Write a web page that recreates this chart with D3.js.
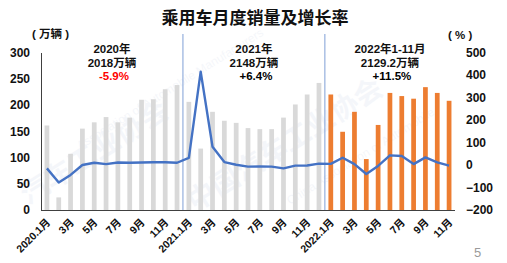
<!DOCTYPE html>
<html><head><meta charset="utf-8">
<script src="https://cdn.jsdelivr.net/npm/d3@7"></script>
<style>
html,body{margin:0;padding:0;background:#fff;}
svg{display:block;}
text{font-family:"Liberation Sans","Noto Sans CJK SC",Arial,sans-serif;}
</style></head>
<body>
<svg id="c" width="507" height="263"></svg>
<script>
const months = [
 "2020.1","2020.2","2020.3","2020.4","2020.5","2020.6","2020.7","2020.8","2020.9","2020.10","2020.11","2020.12",
 "2021.1","2021.2","2021.3","2021.4","2021.5","2021.6","2021.7","2021.8","2021.9","2021.10","2021.11","2021.12",
 "2022.1","2022.2","2022.3","2022.4","2022.5","2022.6","2022.7","2022.8","2022.9","2022.10","2022.11"];
const sales2020 = [161, 24, 107, 155, 167, 177, 167, 176, 210, 211, 230, 238];
const sales2021 = [206, 117, 187, 170, 166, 156, 154, 154, 176, 201, 220, 242];
const sales2022 = [220, 149, 187, 97, 162, 223, 217, 212, 234, 223, 208];
const growth = [-15, -78, -44, 0, 10, 4, 11, 10, 11, 12, 12, 10,
                32, 415, 81, 13, 1, -7, -6, -7, -15, -3, -2, 6,
                5, 32, 4, -40, -4, 43, 40, 4, 34, 12, -3];
const xTickMonths = ["2020.1","2020.3","2020.5","2020.7","2020.9","2020.11","2021.1","2021.3","2021.5","2021.7","2021.9","2021.11","2022.1","2022.3","2022.5","2022.7","2022.9","2022.11"];
const xTickLabels = ["2020.1月","3月","5月","7月","9月","11月","2021.1月","3月","5月","7月","9月","11月","2022.1月","3月","5月","7月","9月","11月"];
const leftTicks = [0,50,100,150,200,250,300];
const rightTicks = [-200,-100,0,100,200,300,400,500];
const periods = [
  {lines:["2020年","2018万辆","-5.9%"], from:"2020.1", to:"2020.12", pctColor:"#ff0000"},
  {lines:["2021年","2148万辆","+6.4%"], from:"2021.1", to:"2021.12", pctColor:"#000"},
  {lines:["2022年1-11月","2129.2万辆","+11.5%"], from:"2022.1", to:"2022.11", pctColor:"#000"}
];

const sales = sales2020.concat(sales2021, sales2022);
const data = months.map((m,i)=>({m, v:sales[i], g:growth[i], y:+m.split(".")[0]}));

const svg = d3.select("#c");
const L = 41, R = 455, T = 52.5, B = 210;
const x = d3.scaleBand().domain(months).range([L,R]).paddingInner(0.6).paddingOuter(0.3);
const yL = d3.scaleLinear().domain([0,300]).range([B,T]);
const yR = d3.scaleLinear().domain([-200,500]).range([B,T]);

// faint watermark
const wm = svg.append("g").attr("fill","#1f4e9a").attr("opacity",0.045).attr("font-weight","bold");
wm.append("text").attr("transform","translate(28,205) rotate(-32)").attr("font-size",28).attr("font-family","Noto Sans CJK SC").text("汽车工业协会");
wm.append("text").attr("transform","translate(80,150) rotate(-32)").attr("font-size",12).attr("font-weight","normal").text("Association of Automobile Manufacturers");
wm.append("text").attr("transform","translate(195,212) rotate(-32)").attr("font-size",28).attr("font-family","Noto Sans CJK SC").text("中国汽车工业协会");
wm.append("text").attr("transform","translate(290,205) rotate(-32)").attr("font-size",12).attr("font-weight","normal").text("China Association of Automobile");

// title
svg.append("text").attr("x",255).attr("y",24).attr("text-anchor","middle")
  .attr("font-size",17).attr("font-weight","bold").attr("font-family","Noto Sans CJK SC").attr("fill","#111")
  .text("乘用车月度销量及增长率");
svg.append("text").attr("x",32).attr("y",38).attr("font-size",11.5).attr("font-weight","bold")
  .attr("font-family","Noto Sans CJK SC").attr("fill","#111").attr("xml:space","preserve").text("( 万辆 )");
svg.append("text").attr("x",448).attr("y",39).attr("font-size",11.5).attr("font-weight","bold")
  .attr("font-family","Noto Sans CJK SC").attr("fill","#111").attr("xml:space","preserve").text("( % )");

// bars
svg.append("g").selectAll("rect").data(data).join("rect")
  .attr("x",d=>x(d.m)).attr("width",x.bandwidth())
  .attr("y",d=>yL(d.v)).attr("height",d=>yL(0)-yL(d.v))
  .attr("fill",d=>d.y===2022?"#ed7d31":"#d9d9d9");

// separators
const sepMonths = ["2021.1","2022.1"];
svg.append("g").selectAll("line").data(sepMonths).join("line")
  .attr("x1",d=>x(d)-x.step()*x.paddingInner()/2).attr("x2",d=>x(d)-x.step()*x.paddingInner()/2)
  .attr("y1",34).attr("y2",B).attr("stroke","#7f9fd6").attr("stroke-width",1);

// axes
const axL = svg.append("g").attr("transform",`translate(${L},0)`)
  .call(d3.axisLeft(yL).tickValues(leftTicks).tickSize(0).tickPadding(11));
axL.select(".domain").attr("stroke","#404040");
axL.selectAll("text").attr("font-size",12).attr("font-weight","bold").attr("fill","#111");

const axR = svg.append("g").attr("transform",`translate(${R},0)`)
  .call(d3.axisRight(yR).tickValues(rightTicks).tickSize(0).tickPadding(11));
axR.select(".domain").remove();
axR.selectAll("text").attr("font-size",12).attr("font-weight","bold").attr("fill","#111");

const lblMap = new Map(xTickMonths.map((m,i)=>[m,xTickLabels[i]]));
const axB = svg.append("g").attr("transform",`translate(0,${B})`)
  .call(d3.axisBottom(x).tickValues(xTickMonths).tickFormat(m=>lblMap.get(m)).tickSize(0).tickSizeOuter(0));
axB.select(".domain").attr("stroke","#404040").attr("d",`M${L},0.5H${R}`);
axB.selectAll("text").attr("font-size",10.5).attr("font-weight","bold").attr("fill","#111")
  .attr("text-anchor","end").attr("y",0).attr("dy",0)
  .attr("transform","translate(4,13) rotate(-45)");

// line
const line = d3.line().x(d=>x(d.m)+x.bandwidth()/2).y(d=>yR(d.g));
svg.append("path").datum(data).attr("d",line).attr("fill","none")
  .attr("stroke","#4472c4").attr("stroke-width",2.4).attr("stroke-linejoin","round");

// period annotations
periods.forEach(p=>{
  const cx = (x(p.from) + x(p.to) + x.bandwidth())/2;
  p.lines.forEach((t,i)=>{
    svg.append("text").attr("x",cx + (i===2?2:0)).attr("y",53+i*13.7).attr("text-anchor","middle")
      .attr("font-size",11.5).attr("font-weight","bold")
      .attr("fill",i===2?p.pctColor:"#111").text(t);
  });
});

// page number
svg.append("text").attr("x",474).attr("y",257).attr("font-size",13).attr("fill","#9a9a9a").text("5");
</script>
</body></html>
